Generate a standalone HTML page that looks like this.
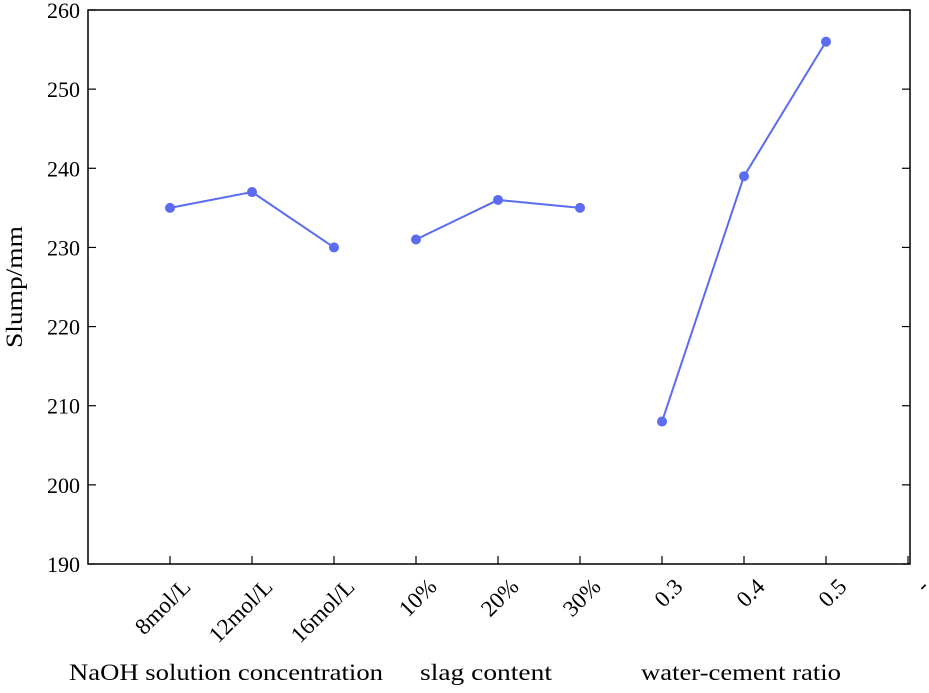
<!DOCTYPE html>
<html><head><meta charset="utf-8"><style>
html,body{margin:0;padding:0;background:#fff;}
svg text{font-family:"Liberation Serif",serif;fill:#000;}
</style></head><body>
<svg id="chart" width="929" height="688" xmlns="http://www.w3.org/2000/svg"></svg>
<script>
const categories = ["8mol/L","12mol/L","16mol/L","10%","20%","30%","0.3","0.4","0.5","-"];
const groupNaOH = [235,237,230];
const groupSlag = [231,236,235];
const groupWater = [208,239,256];
const yTicks = [190,200,210,220,230,240,250,260];
const groupTitles = ["NaOH solution concentration","slag content","water-cement ratio"];

const svg = document.getElementById('chart');
const NS = "http://www.w3.org/2000/svg";
const L=88,R=910,T=10,B=564,yMin=190,yMax=260,step=82;
const xPos = i => L + step*(i+1);
const yPos = v => B - (v-yMin)/(yMax-yMin)*(B-T);
function mk(tag, attrs){const e=document.createElementNS(NS,tag);for(const k in attrs)e.setAttribute(k,attrs[k]);svg.appendChild(e);return e;}

const frame = mk('rect',{x:L,y:T,width:R-L,height:B-T,fill:'none',stroke:'#000','stroke-width':1.5});



yTicks.forEach(v=>{
  const y=yPos(v);
  const t1=mk('line',{x1:L,x2:L+8,y1:y,y2:y,stroke:'#000','stroke-width':1.2});
  
  
  const t2=mk('line',{x1:R-8,x2:R,y1:y,y2:y,stroke:'#000','stroke-width':1.2});
  
  
  const tx=mk('text',{x:L-8,y:y+8,'text-anchor':'end','font-size':22});
  tx.textContent=v;
  
  
});

categories.forEach((c,i)=>{
  const x=xPos(i);
  const t=mk('line',{x1:x,x2:x,y1:B,y2:B-8,stroke:'#000','stroke-width':1.2});
  
  
  const tx=mk('text',{x:x+22,y:588,'text-anchor':'end','font-size':23,transform:`rotate(-45 ${x+22} 588)`});
  tx.textContent=c;
  
  
});

const yt=mk('text',{x:22,y:287,'text-anchor':'middle','font-size':23,textLength:122,lengthAdjust:'spacingAndGlyphs',transform:'rotate(-90 22 287)'});
yt.textContent='Slump/mm';



const titlePos=[[226,680,314],[486,680,132],[741,680,200]];
groupTitles.forEach((g,i)=>{
  const e=mk('text',{x:titlePos[i][0],y:titlePos[i][1],'text-anchor':'middle','font-size':23,textLength:titlePos[i][2],lengthAdjust:'spacingAndGlyphs'});
  e.textContent=g;
  
  
});

const groups=[[groupNaOH,0,'naoh'],[groupSlag,3,'slag'],[groupWater,6,'water-cement']];
groups.forEach(([vals,off,name])=>{
  const pts=vals.map((v,j)=>xPos(off+j)+','+yPos(v)).join(' ');
  const pl=mk('polyline',{points:pts,fill:'none',stroke:'#5b6cf0','stroke-width':2});
  
  
  vals.forEach((v,j)=>{
    const c=mk('circle',{cx:xPos(off+j),cy:yPos(v),r:5,fill:'#5b6cf0'});
    
    
  });
});
</script>
</body></html>
